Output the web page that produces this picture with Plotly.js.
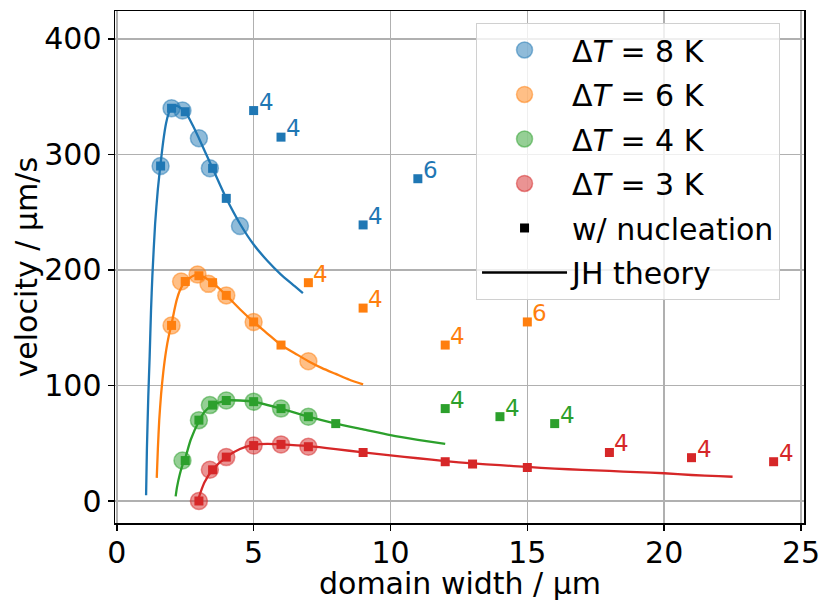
<!DOCTYPE html>
<html>
<head>
<meta charset="utf-8">
<script src="https://cdn.plot.ly/plotly-3.0.1.min.js"></script>
<style>
  html, body { margin: 0; padding: 0; background: #fff; }
  #chart { width: 831px; height: 611px; }
</style>
</head>
<body>
<div id="chart"></div>
<script>
// velocity vs. domain width, four undercoolings, JH theory curves

// measured (circles)
const dt8CircX = [1.6, 2.0, 2.4, 3.0, 3.4, 4.5];
const dt8CircY = [290, 340, 338, 314, 288, 238];
const dt6CircX = [2.0, 2.35, 2.95, 3.35, 4.0, 5.0, 7.0];
const dt6CircY = [152, 190, 196, 188, 178, 155, 121];
const dt4CircX = [2.4, 3.0, 3.4, 4.0, 5.0, 6.0, 7.0];
const dt4CircY = [35, 70, 83, 87, 86, 80, 73];
const dt3CircX = [3.0, 3.4, 4.0, 5.0, 6.0, 7.0];
const dt3CircY = [0, 27, 38, 48, 49, 47];

// w/ nucleation (squares); label = number shown next to the square
const dt8SqX = [1.6, 2.0, 2.5, 3.5, 4.0, 5.0, 6.0, 9.0, 11.0];
const dt8SqY = [290, 340, 337, 288, 262, 338, 315, 239, 279];
const dt8SqLabel = ['', '', '', '', '', '4', '4', '4', '6'];
const dt6SqX = [2.0, 2.5, 3.0, 3.5, 4.0, 5.0, 6.0, 7.0, 9.0, 12.0, 15.0];
const dt6SqY = [152, 190, 195, 189, 178, 155, 135, 189, 167, 135, 155];
const dt6SqLabel = ['', '', '', '', '', '', '', '4', '4', '4', '6'];
const dt4SqX = [2.5, 3.0, 3.5, 4.0, 5.0, 6.0, 7.0, 8.0, 12.0, 14.0, 16.0];
const dt4SqY = [35, 70, 83, 87, 86, 80, 73, 67, 80, 73, 67];
const dt4SqLabel = ['', '', '', '', '', '', '', '', '4', '4', '4'];
const dt3SqX = [3.0, 3.5, 4.0, 5.0, 6.0, 7.0, 9.0, 12.0, 13.0, 15.0, 18.0, 21.0, 24.0];
const dt3SqY = [0, 27, 38, 48, 49, 47, 42, 34, 32, 29, 42, 37.5, 34];
const dt3SqLabel = ['', '', '', '', '', '', '', '', '', '', '4', '4', '4'];

// JH theory curves
const dt8TheoryX = [1.07, 1.1, 1.15, 1.2, 1.25, 1.3, 1.4, 1.5, 1.6, 1.7, 1.8, 1.9, 2.0, 2.2, 2.5, 2.8, 3.0, 3.5, 4.0, 4.5, 5.0, 5.5, 6.0, 6.5, 6.8];
const dt8TheoryY = [5, 45, 90, 125, 165, 195, 240, 270, 292, 312, 327, 336, 341, 342, 337, 324, 314, 288, 262, 240, 222, 208, 196, 186, 180];
const dt6TheoryX = [1.46, 1.5, 1.55, 1.62, 1.7, 1.8, 1.9, 2.0, 2.1, 2.2, 2.3, 2.5, 2.8, 3.0, 3.5, 4.0, 4.5, 5.0, 5.5, 6.0, 6.5, 7.0, 7.5, 8.0, 8.5, 9.0];
const dt6TheoryY = [20, 45, 70, 93, 112, 130, 143, 153, 165, 175, 182, 190, 195, 196, 189, 178, 166, 155, 145, 135, 128, 121, 115, 110, 105, 101];
const dt4TheoryX = [2.15, 2.2, 2.3, 2.4, 2.5, 2.7, 3.0, 3.2, 3.5, 4.0, 4.5, 5.0, 6.0, 7.0, 8.0, 9.0, 10.0, 11.0, 12.0];
const dt4TheoryY = [4, 12, 23, 31, 37, 53, 69, 77, 83, 87, 87, 86, 80, 73, 67, 62, 57, 53, 49.5];
const dt3TheoryX = [2.97, 3.1, 3.2, 3.5, 4.0, 4.5, 5.0, 5.5, 6.0, 7.0, 8.0, 9.0, 10.0, 11.0, 12.0, 13.0, 14.0, 15.0, 16.0, 17.0, 18.0, 19.0, 20.0, 21.0, 22.0, 22.5];
const dt3TheoryY = [1, 10, 16, 27, 38, 45, 48.5, 49.5, 49, 47.5, 45, 42, 39.5, 37, 34.5, 32.5, 31, 29.5, 28, 27, 26, 25, 24, 22.5, 21.5, 21];

const colors = ['#1f77b4', '#ff7f0e', '#2ca02c', '#d62728'];
const alphaColors = ['rgba(31,119,180,0.5)', 'rgba(255,127,14,0.5)', 'rgba(44,160,44,0.5)', 'rgba(214,39,40,0.5)'];
const names = ['Δ<i>T</i> = 8 K', 'Δ<i>T</i> = 6 K', 'Δ<i>T</i> = 4 K', 'Δ<i>T</i> = 3 K'];

const series = [
    { cx: dt8CircX, cy: dt8CircY, sx: dt8SqX, sy: dt8SqY, sl: dt8SqLabel, tx: dt8TheoryX, ty: dt8TheoryY },
    { cx: dt6CircX, cy: dt6CircY, sx: dt6SqX, sy: dt6SqY, sl: dt6SqLabel, tx: dt6TheoryX, ty: dt6TheoryY },
    { cx: dt4CircX, cy: dt4CircY, sx: dt4SqX, sy: dt4SqY, sl: dt4SqLabel, tx: dt4TheoryX, ty: dt4TheoryY },
    { cx: dt3CircX, cy: dt3CircY, sx: dt3SqX, sy: dt3SqY, sl: dt3SqLabel, tx: dt3TheoryX, ty: dt3TheoryY }
];

const FONT = 'DejaVu Sans, Liberation Sans, sans-serif';
const traces = [];
const annotations = [];

// theory lines at the bottom
series.forEach((s, i) => {
    traces.push({
        x: s.tx, y: s.ty, type: 'scatter', mode: 'lines',
        line: { color: colors[i], width: 2.3, shape: 'spline', smoothing: 0.6 },
        showlegend: false, hoverinfo: 'skip'
    });
});

// circles
series.forEach((s, i) => {
    traces.push({
        x: s.cx, y: s.cy, type: 'scatter', mode: 'markers', name: names[i],
        legendgroup: 'g' + i, legendrank: i + 1,
        marker: { symbol: 'circle', size: 17, color: alphaColors[i], line: { color: alphaColors[i], width: 1.5 } }
    });
});

// squares
series.forEach((s, i) => {
    traces.push({
        x: s.sx, y: s.sy, type: 'scatter', mode: 'markers',
        marker: { symbol: 'square', size: 9, color: colors[i] },
        showlegend: false
    });
    s.sl.forEach((lab, k) => {
        if (!lab) return;
        annotations.push({
            x: s.sx[k], y: s.sy[k], xref: 'x', yref: 'y', text: lab, showarrow: false,
            xanchor: 'left', yanchor: 'bottom', xshift: 3, yshift: -6,
            font: { family: FONT, size: 23, color: colors[i] }
        });
    });
});

// legend-only entries
traces.push({
    x: [null], y: [null], type: 'scatter', mode: 'markers', name: 'w/ nucleation',
    legendgroup: 'g4', legendrank: 5,
    marker: { symbol: 'square', size: 9, color: '#000' }
});
traces.push({
    x: [null], y: [null], type: 'scatter', mode: 'lines', name: 'JH theory',
    legendgroup: 'g5', legendrank: 6,
    line: { color: '#000', width: 2.3 }
});

// axis titles placed as annotations for exact positioning
annotations.push({
    text: 'domain width / μm', xref: 'paper', yref: 'paper', x: 0.5, y: -0.118,
    xanchor: 'center', yanchor: 'middle', showarrow: false,
    font: { family: FONT, size: 30, color: '#000' }
});
annotations.push({
    text: 'velocity / μm/s', xref: 'paper', yref: 'paper', x: -0.1285, y: 0.5,
    xanchor: 'center', yanchor: 'middle', showarrow: false, textangle: -90,
    font: { family: FONT, size: 30, color: '#000' }
});

const axisCommon = {
    showline: true, mirror: true, linecolor: '#000', linewidth: 1.5,
    ticks: 'outside', ticklen: 6, tickwidth: 1.5, tickcolor: '#000',
    showgrid: true, gridcolor: '#b0b0b0', gridwidth: 1.5,
    zeroline: false,
    tickfont: { family: FONT, size: 30, color: '#000' }
};

const layout = {
    width: 831, height: 611,
    margin: { l: 115, r: 27, t: 11, b: 88 },
    paper_bgcolor: '#fff', plot_bgcolor: '#fff',
    font: { family: FONT, color: '#000' },
    xaxis: Object.assign({}, axisCommon, {
        range: [-0.066, 25.11], tickvals: [0, 5, 10, 15, 20, 25], ticklabelstandoff: -4
    }),
    yaxis: Object.assign({}, axisCommon, {
        range: [-19.05, 424.2], tickvals: [0, 100, 200, 300, 400]
    }),
    legend: {
        x: 0.524, y: 0.9766, xanchor: 'left', yanchor: 'top',
        bgcolor: 'rgba(255,255,255,0.8)', bordercolor: '#d0d0d0', borderwidth: 1,
        font: { family: FONT, size: 30, color: '#000' },
        traceorder: 'grouped', tracegroupgap: 2.5, itemwidth: 85
    },
    annotations: annotations,
    showlegend: true
};

Plotly.newPlot('chart', traces, layout, { staticPlot: true, displayModeBar: false });
</script>
</body>
</html>
